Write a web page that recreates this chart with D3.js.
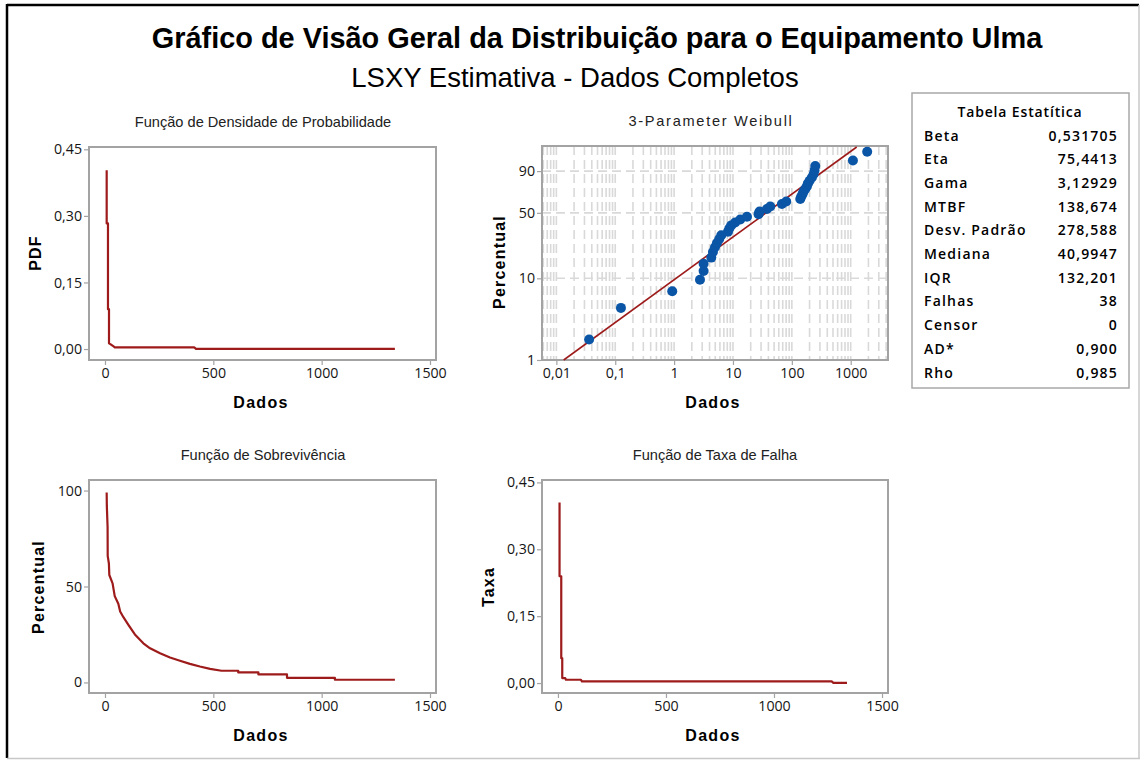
<!DOCTYPE html>
<html>
<head>
<meta charset="utf-8">
<script src="https://cdn.jsdelivr.net/npm/d3@7"></script>
<style>
  body { margin: 0; background: #fff; }
  svg { display: block; }
</style>
</head>
<body>
<svg id="chart" width="1140" height="760"></svg>
<script>
// --- data ---
const mainTitle = 'Gráfico de Visão Geral da Distribuição para o Equipamento Ulma';
const subTitle = 'LSXY Estimativa - Dados Completos';

// probability density (Dados, PDF)
const pdfT = [7.8, 7.8, 13.8, 13.8, 18.5, 18.5, 26.3, 41.5, 45, 412, 420, 1338];
const pdfV = [0.403, 0.283, 0.283, 0.0897, 0.0897, 0.0128, 0.0105, 0.0052, 0.0037, 0.0037, 0.0004, 0.0004];

// 3-parameter Weibull probability plot (Dados - gama, percentual)
const weibullX = [0.036, 0.125, 0.93, 2.75, 3.17, 3.17, 4.28, 4.57, 4.94, 5.34, 5.85, 6.33, 8.22, 8.65,
  9.35, 10.9, 13.3, 17.3, 27.2, 28.3, 37.7, 43.0, 67.8, 80.3, 139, 144.5, 152, 158, 169, 180, 187,
  200, 219, 234, 243, 250, 1090, 1905];
const weibullPct = [1.8, 4.4, 7.0, 9.6, 12.2, 14.8, 17.4, 20.1, 22.7, 25.3, 27.9, 30.5, 33.1, 35.7,
  38.3, 40.9, 43.5, 46.1, 48.7, 51.3, 53.9, 56.5, 59.1, 61.7, 64.3, 66.9, 69.5, 72.1, 74.7, 77.3, 79.9,
  82.6, 85.2, 87.8, 90.4, 93.0, 95.6, 98.2];
const fitX = [0.0133, 1265];
const fitPct = [1, 99];
const weibullXTicks = [0.01, 0.1, 1, 10, 100, 1000];
const weibullYTicks = [1, 10, 50, 90];

// survival function (Dados, percentual)
const survT = [7.7, 8.5, 12, 12.5, 18, 20, 35, 45, 61.5, 70, 85, 108, 138, 177, 208, 254, 300, 346,
  392, 438, 485, 538, 615, 615, 708, 708, 840, 840, 1061, 1061, 1338];
const survS = [99, 92, 81, 66, 62, 56, 51.6, 45, 41, 37, 34, 30, 25, 20.4, 17.8, 15.2, 13, 11.3,
  9.7, 8.3, 7.1, 6.1, 6.1, 5.2, 5.2, 4.2, 4.2, 2.4, 2.4, 1.4, 1.4];

// hazard function (Dados, taxa)
const hazT = [7.4, 7.4, 15.3, 15.3, 19.9, 19.9, 33.8, 37, 106.5, 111, 1267, 1275, 1338];
const hazV = [0.405, 0.2395, 0.2395, 0.0558, 0.0558, 0.0112, 0.0112, 0.0074, 0.0074, 0.0036, 0.0036, 0.0003, 0.0003];

const linearXTicks = [0, 500, 1000, 1500];
const densityTicks = [0, 0.15, 0.30, 0.45];
const survTicks = [0, 50, 100];

// statistics table
const statLabels = ['Beta', 'Eta', 'Gama', 'MTBF', 'Desv. Padrão', 'Mediana', 'IQR', 'Falhas', 'Censor', 'AD*', 'Rho'];
const statValues = ['0,531705', '75,4413', '3,12929', '138,674', '278,588', '40,9947', '132,201', '38', '0', '0,900', '0,985'];

// --- drawing ---
const svg = d3.select('#chart');
const ptBR = d3.formatLocale({ decimal: ',', thousands: '.', grouping: [3], currency: ['R$', ''] });
const fmt2 = ptBR.format('.2f');
const fmtG = ptBR.format('~g');

const curveColor = '#9e1b1b';
const frameColor = '#a3a3a3';
const tickFont = '"Open Sans", sans-serif';
const labelFont = '"Liberation Sans", Arial, sans-serif';

// outer frame
svg.append('rect').attr('x', 0).attr('y', 0).attr('width', 1140).attr('height', 760).attr('fill', '#fff');
svg.append('line').attr('x1', 7).attr('x2', 1139).attr('y1', 5).attr('y2', 5)
  .attr('stroke', '#000').attr('stroke-width', 2.5);
svg.append('line').attr('x1', 7).attr('x2', 7).attr('y1', 4).attr('y2', 758)
  .attr('stroke', '#000').attr('stroke-width', 2.5);
svg.append('line').attr('x1', 1139).attr('x2', 1139).attr('y1', 5).attr('y2', 759)
  .attr('stroke', '#c8c8c8').attr('stroke-width', 1.5);
svg.append('line').attr('x1', 7).attr('x2', 1140).attr('y1', 758.5).attr('y2', 758.5)
  .attr('stroke', '#c8c8c8').attr('stroke-width', 1.5);

svg.append('text').attr('x', 597).attr('y', 48).attr('text-anchor', 'middle')
  .style('font-family', labelFont).style('font-weight', 'bold').style('font-size', '28.9px')
  .text(mainTitle);
svg.append('text').attr('x', 575).attr('y', 86.5).attr('text-anchor', 'middle')
  .style('font-family', labelFont).style('font-size', '27.5px')
  .text(subTitle);

function styleAxis(g) {
  g.select('.domain').remove();
  g.selectAll('.tick line').attr('stroke', frameColor).attr('stroke-width', 1.2);
  g.selectAll('.tick text').attr('fill', '#141414')
    .style('font-family', tickFont).style('font-size', '14.2px');
}

function panel(opts) {
  const { left, right, top, bottom } = opts;
  const g = svg.append('g');
  // title
  g.append('text').attr('x', opts.titleX).attr('y', top - 20.5).attr('text-anchor', 'middle')
    .style('font-family', labelFont).style('font-size', '14.6px').attr('fill', '#222')
    .style('letter-spacing', (opts.titleSpacing || 0) + 'px')
    .text(opts.title);
  // x label
  g.append('text').attr('x', opts.xLabelX).attr('y', bottom + 48).attr('text-anchor', 'middle')
    .style('font-family', labelFont).style('font-weight', 'bold').style('font-size', '16px')
    .style('letter-spacing', '1.3px').text('Dados');
  // y label
  g.append('text').attr('transform', `translate(${opts.yLabelX},${opts.yLabelY}) rotate(-90)`)
    .attr('text-anchor', 'middle').attr('dy', '0.35em')
    .style('font-family', labelFont).style('font-weight', 'bold').style('font-size', '16px')
    .style('letter-spacing', '1.2px').text(opts.yLabel);
  return g;
}

function frame(g, left, right, top, bottom) {
  g.append('rect').attr('x', left).attr('y', top).attr('width', right - left).attr('height', bottom - top)
    .attr('fill', 'none').attr('stroke', frameColor).attr('stroke-width', 2);
}

function linearPanel(opts, ts, vs, yDomain, yTicks, yFmt) {
  const { left, right, top, bottom } = opts;
  const g = panel(opts);
  const x = d3.scaleLinear().domain([-73.8, 1527.7]).range([left, right]);
  const y = d3.scaleLinear().domain(yDomain).range([bottom, top]);

  g.append('g').attr('transform', `translate(0,${bottom + 1})`)
    .call(d3.axisBottom(x).tickValues(linearXTicks).tickSize(4).tickPadding(3).tickFormat(d3.format('d')))
    .call(styleAxis);
  g.append('g').attr('transform', `translate(${left - 1},0)`)
    .call(d3.axisLeft(y).tickValues(yTicks).tickSize(4).tickPadding(2).tickFormat(yFmt))
    .call(styleAxis);

  frame(g, left, right, top, bottom);

  const line = d3.line().x(d => x(d[0])).y(d => y(d[1]));
  g.append('path').datum(d3.zip(ts, vs)).attr('d', line)
    .attr('fill', 'none').attr('stroke', curveColor).attr('stroke-width', 2.2)
    .attr('stroke-linejoin', 'round');
}

// PDF
linearPanel({ left: 89, right: 436, top: 147, bottom: 360, title: 'Função de Densidade de Probabilidade',
  titleX: 263, xLabelX: 261, yLabel: 'PDF', yLabelX: 35, yLabelY: 253 },
  pdfT, pdfV, [-0.0247, 0.4552], densityTicks, fmt2);

// survival
linearPanel({ left: 89, right: 436, top: 480, bottom: 693, title: 'Função de Sobrevivência',
  titleX: 263, xLabelX: 261, yLabel: 'Percentual', yLabelX: 38, yLabelY: 587 },
  survT, survS, [-5.5, 105.5], survTicks, d3.format('d'));

// hazard
linearPanel({ left: 542, right: 888, top: 480, bottom: 693, title: 'Função de Taxa de Falha',
  titleX: 715, xLabelX: 713, yLabel: 'Taxa', yLabelX: 488, yLabelY: 587 },
  hazT, hazV, [-0.0223, 0.4554], densityTicks, fmt2);

// Weibull probability plot
(function () {
  const opts = { left: 542, right: 888, top: 146, bottom: 360, title: '3-Parameter Weibull',
    titleX: 711, xLabelX: 713, yLabel: 'Percentual', yLabelX: 499, yLabelY: 262, titleSpacing: 1.7 };
  const { left, right, top, bottom } = opts;
  const g = panel(opts);

  const weibit = p => Math.log(-Math.log(1 - p / 100));
  const x = d3.scaleLog().domain([0.0057, 4300]).range([left, right]);
  const yT = d3.scaleLinear().domain([weibit(1), weibit(99)]).range([bottom, top + 1]);
  const y = p => yT(weibit(p));

  // dashed grid
  const grid = g.append('g').attr('stroke', '#d9d9d9').attr('stroke-width', 1.6)
    .attr('stroke-dasharray', '9,5');
  const minor = [];
  for (let e = -3; e <= 3; e++) {
    for (let k = 1; k <= 9; k++) {
      const v = k * Math.pow(10, e);
      if (v > 0.0057 && v < 4300) minor.push(v);
    }
  }
  grid.selectAll('line.v').data(minor).enter().append('line')
    .attr('x1', d => x(d)).attr('x2', d => x(d)).attr('y1', top).attr('y2', bottom);
  grid.selectAll('line.h').data(weibullYTicks.slice(1)).enter().append('line')
    .attr('x1', left).attr('x2', right).attr('y1', d => y(d)).attr('y2', d => y(d));

  g.append('g').attr('transform', `translate(0,${bottom + 1})`)
    .call(d3.axisBottom(x).tickValues(weibullXTicks).tickSize(4).tickPadding(3).tickFormat(fmtG))
    .call(styleAxis);
  g.append('g').attr('transform', `translate(${left - 1},0)`)
    .call(d3.axisLeft(yT).tickValues(weibullYTicks.map(weibit)).tickSize(4).tickPadding(2)
      .tickFormat((d, i) => weibullYTicks[i]))
    .call(styleAxis);

  frame(g, left, right, top, bottom);

  const fit = d3.zip(fitX, fitPct);
  g.append('path').datum(fit).attr('d', d3.line().x(d => x(d[0])).y(d => y(d[1])))
    .attr('fill', 'none').attr('stroke', curveColor).attr('stroke-width', 1.6);

  g.selectAll('circle').data(d3.zip(weibullX, weibullPct)).enter().append('circle')
    .attr('cx', d => x(d[0])).attr('cy', d => y(d[1])).attr('r', 5)
    .attr('fill', '#0a55a6');
})();

// statistics table
(function () {
  const g = svg.append('g');
  g.append('rect').attr('x', 912).attr('y', 93).attr('width', 217).attr('height', 295)
    .attr('fill', '#fff').attr('stroke', '#a8a8a8').attr('stroke-width', 1.5);
  const tFont = '"Open Sans", sans-serif';
  g.append('text').attr('x', 1020).attr('y', 117).attr('text-anchor', 'middle')
    .style('font-family', tFont).style('font-weight', 600).style('font-size', '14px')
    .style('letter-spacing', '0.85px').text('Tabela Estatítica');
  const rowY = d3.scaleLinear().domain([0, statLabels.length - 1]).range([140.5, 377.5]);
  g.selectAll('text.lab').data(statLabels).enter().append('text').attr('class', 'lab')
    .attr('x', 924).attr('y', (d, i) => rowY(i))
    .style('font-family', tFont).style('font-weight', 600).style('font-size', '14px')
    .style('letter-spacing', '1.2px').text(d => d);
  g.selectAll('text.val').data(statValues).enter().append('text').attr('class', 'val')
    .attr('x', 1118).attr('y', (d, i) => rowY(i)).attr('text-anchor', 'end')
    .style('font-family', tFont).style('font-weight', 600).style('font-size', '14px')
    .style('letter-spacing', '1.2px').text(d => d);
})();
</script>
</body>
</html>
